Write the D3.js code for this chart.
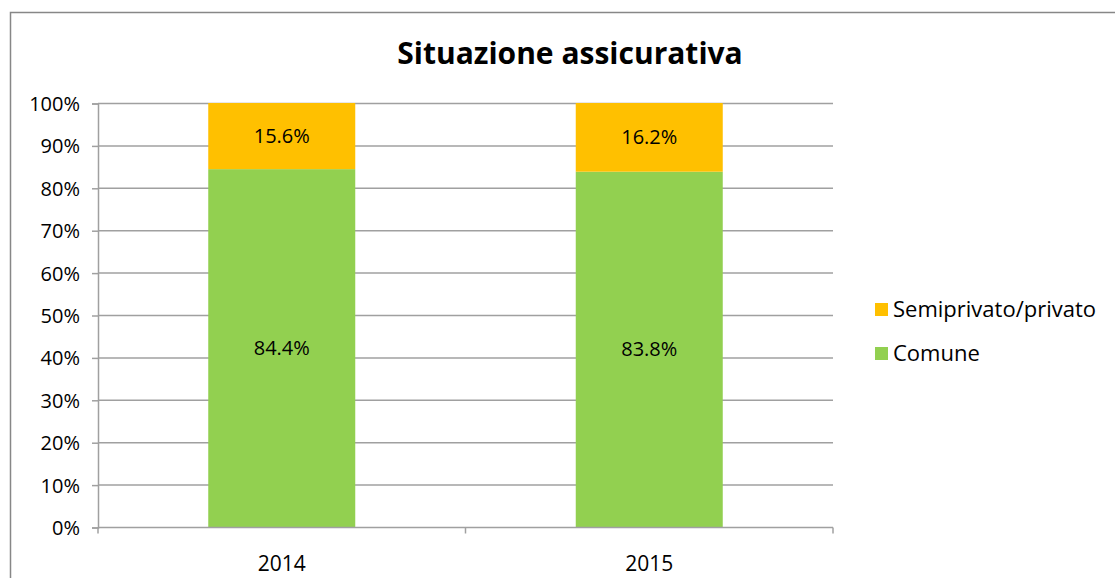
<!DOCTYPE html>
<html>
<head>
<meta charset="utf-8">
<script src="https://cdn.jsdelivr.net/npm/d3@7"></script>
<style>
  body { margin: 0; background: #fff; }
  svg text { font-family: "Open Sans", "Noto Sans", sans-serif; fill: #000; }
</style>
</head>
<body>
<svg id="chart" width="1115" height="578"></svg>
<script>
// data
var years = ["2014", "2015"];
var comune = [84.4, 83.8];
var semiprivato = [15.6, 16.2];
var seriesNames = ["Semiprivato/privato", "Comune"];
var seriesColors = ["#FFC000", "#92D050"];
var yTicks = [0, 10, 20, 30, 40, 50, 60, 70, 80, 90, 100];

var svg = d3.select("#chart");
var margin = {left: 98, top: 103, right: 833, bottom: 527};

// outer frame (right and bottom go off the picture)
svg.append("rect")
  .attr("x", 10.5).attr("y", 12.5)
  .attr("width", 1200).attr("height", 700)
  .attr("fill", "none")
  .attr("stroke", "#878787")
  .attr("stroke-width", 1.5);

svg.append("text")
  .attr("x", 570).attr("y", 64)
  .attr("text-anchor", "middle")
  .style("font-size", "30px")
  .style("font-weight", "bold")
  .text("Situazione assicurativa");

var x = d3.scaleBand()
  .domain(years)
  .range([margin.left, margin.right])
  .paddingInner(0.6)
  .paddingOuter(0.3);

var xGroup = d3.scaleBand().domain(years).range([margin.left, margin.right]);

var y = d3.scaleLinear()
  .domain([0, 100])
  .range([margin.bottom, margin.top]);

// gridlines
svg.append("g")
  .selectAll("line")
  .data(yTicks.filter(function(d) { return d > 0; }))
  .enter().append("line")
  .attr("x1", margin.left).attr("x2", margin.right)
  .attr("y1", function(d) { return y(d) + 0.5; })
  .attr("y2", function(d) { return y(d) + 0.5; })
  .attr("stroke", "#a0a0a0")
  .attr("stroke-width", 1.5);

// y axis
var yAxis = svg.append("g")
  .attr("transform", "translate(" + margin.left + ",0.5)")
  .call(d3.axisLeft(y).tickValues(yTicks).tickSize(6).tickPadding(12)
    .tickFormat(function(d) { return d + "%"; }));
yAxis.select(".domain").attr("stroke", "#a0a0a0").attr("stroke-width", 1.5);
yAxis.selectAll(".tick line").attr("stroke", "#a0a0a0").attr("stroke-width", 1.5);
yAxis.selectAll(".tick text")
  .style("font-size", "20px")
  .attr("dy", "0.35em");

// bars
var stackData = years.map(function(yr, i) {
  return {year: yr, comune: comune[i], semi: semiprivato[i]};
});

svg.append("g").selectAll("rect")
  .data(stackData).enter().append("rect")
  .attr("x", function(d) { return x(d.year); })
  .attr("width", x.bandwidth())
  .attr("y", function(d) { return y(d.comune); })
  .attr("height", function(d) { return y(0) - y(d.comune); })
  .attr("fill", seriesColors[1]);

svg.append("g").selectAll("rect")
  .data(stackData).enter().append("rect")
  .attr("x", function(d) { return x(d.year); })
  .attr("width", x.bandwidth())
  .attr("y", function(d) { return y(d.comune + d.semi); })
  .attr("height", function(d) { return y(d.comune) - y(d.comune + d.semi); })
  .attr("fill", seriesColors[0]);

// x axis
var xAxis = svg.append("g")
  .attr("transform", "translate(0," + (margin.bottom + 0.5) + ")");
xAxis.append("line")
  .attr("x1", margin.left).attr("x2", margin.right)
  .attr("stroke", "#a0a0a0").attr("stroke-width", 1.5);
xAxis.selectAll(".xt")
  .data([margin.left].concat(years.map(function(d) { return xGroup(d) + xGroup.bandwidth(); })))
  .enter().append("line")
  .attr("class", "xt")
  .attr("x1", function(d) { return d; }).attr("x2", function(d) { return d; })
  .attr("y1", 0).attr("y2", 6)
  .attr("stroke", "#a0a0a0").attr("stroke-width", 1.5);
xAxis.selectAll("text")
  .data(years).enter().append("text")
  .attr("x", function(d) { return x(d) + x.bandwidth() / 2; })
  .attr("y", 43)
  .attr("text-anchor", "middle")
  .style("font-size", "21px")
  .text(function(d) { return d; });

// value labels
svg.append("g").selectAll("text")
  .data(stackData).enter().append("text")
  .attr("x", function(d) { return x(d.year) + x.bandwidth() / 2; })
  .attr("y", function(d) { return y(d.comune / 2); })
  .attr("dy", "0.35em")
  .attr("text-anchor", "middle")
  .style("font-size", "20px")
  .text(function(d) { return d.comune.toFixed(1) + "%"; });

svg.append("g").selectAll("text")
  .data(stackData).enter().append("text")
  .attr("x", function(d) { return x(d.year) + x.bandwidth() / 2; })
  .attr("y", function(d) { return y(d.comune + d.semi / 2); })
  .attr("dy", "0.35em")
  .attr("text-anchor", "middle")
  .style("font-size", "20px")
  .text(function(d) { return d.semi.toFixed(1) + "%"; });

// legend
var legend = svg.append("g").selectAll("g")
  .data(seriesNames).enter().append("g")
  .attr("transform", function(d, i) { return "translate(875," + (303 + i * 44) + ")"; });
legend.append("rect")
  .attr("width", 13).attr("height", 13)
  .attr("fill", function(d, i) { return seriesColors[i]; });
legend.append("text")
  .attr("x", 18).attr("y", 6.5)
  .attr("dy", "0.35em")
  .style("font-size", "22px")
  .text(function(d) { return d; });
</script>
</body>
</html>
